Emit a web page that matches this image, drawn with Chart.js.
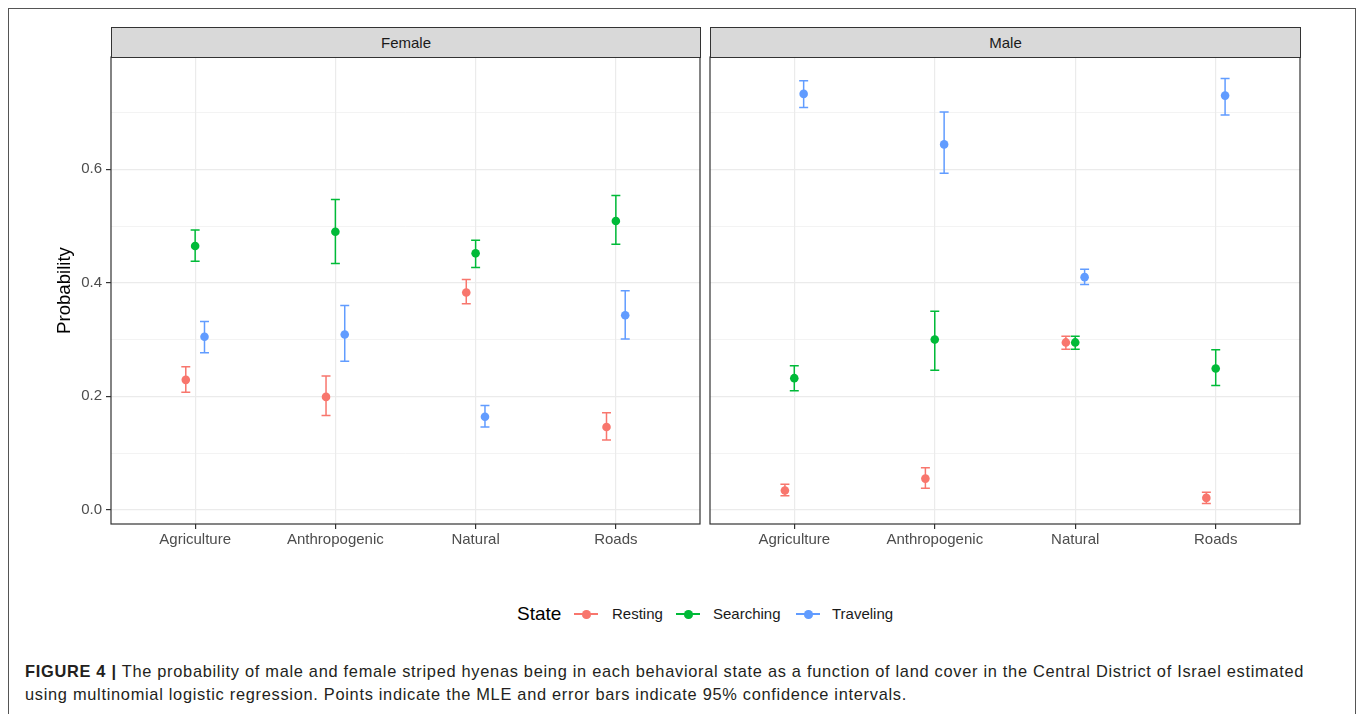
<!DOCTYPE html>
<html lang="en">
<head>
<meta charset="UTF-8">
<title>Figure 4 - Striped hyena behavioral state</title>
<script src="https://cdn.jsdelivr.net/npm/chart.js"></script>
<style>
  body { margin: 0; background: #fff; font-family: "Liberation Sans", Arial, sans-serif; }
  #page { position: relative; width: 1358px; height: 714px; overflow: hidden; }
  #frame {
    position: absolute; left: 8px; top: 8px; width: 1346px; height: 720px;
    border: 1.5px solid #555; border-bottom: none;
  }
  canvas { position: absolute; top: 0; }
  .strip {
    position: absolute; top: 27px; height: 29px; box-sizing: content-box;
    background: #d9d9d9; border: 1.2px solid #333;
    font-size: 15px; color: #1a1a1a; text-align: center; line-height: 30px;
  }
  #legend { position: absolute; top: 602px; left: 517px; height: 24px; font-size: 15px; color: #1a1a1a; }
  #legend span { position: absolute; white-space: nowrap; line-height: 24px; }
  #legend .title { font-size: 19px; color: #000; top: 0; }
  #legend .key { width: 24px; height: 24px; }
  #legend .key i { position: absolute; left: 0; top: 11px; width: 24px; height: 1.6px; }
  #legend .key b { position: absolute; left: 8px; top: 8px; width: 8.5px; height: 8.5px; border-radius: 50%; }
  #caption {
    position: absolute; left: 25px; top: 660px; font-size: 16.4px; line-height: 23px;
    letter-spacing: 0.7px; color: #231f20; white-space: nowrap;
  }
</style>
</head>
<body>
<div id="page">
  <div id="frame"></div>
  <canvas id="femaleChart" width="705" height="560" style="left:0"></canvas>
  <canvas id="maleChart" width="600" height="560" style="left:705px"></canvas>
  <div class="strip" style="left:111px; width:588px">Female</div>
  <div class="strip" style="left:710px; width:589px">Male</div>
  <div id="legend"></div>
  <div id="caption"><b>FIGURE 4 |</b> The probability of male and female striped hyenas being in each behavioral state as a function of land cover in the Central District of Israel estimated<br>using multinomial logistic regression. Points indicate the MLE and error bars indicate 95% confidence intervals.</div>
</div>

<script>
// categories and groups
const landCovers = ['Agriculture', 'Anthropogenic', 'Natural', 'Roads'];
const states = ['Resting', 'Searching', 'Traveling'];
const stateColors = ['#F8766D', '#00BA38', '#619CFF'];

// tick values on the probability axis
const yMajorTicks = [0, 0.2, 0.4, 0.6];
const yMinorTicks = [0.1, 0.3, 0.5, 0.7];

// Female: estimate, lower and upper 95% CI (per land cover)
const femaleResting = [0.229, 0.199, 0.383, 0.146];
const femaleRestingLo = [0.207, 0.166, 0.363, 0.123];
const femaleRestingHi = [0.252, 0.236, 0.406, 0.171];
const femaleSearching = [0.465, 0.490, 0.452, 0.509];
const femaleSearchingLo = [0.438, 0.434, 0.427, 0.468];
const femaleSearchingHi = [0.493, 0.547, 0.475, 0.554];
const femaleTraveling = [0.305, 0.309, 0.164, 0.343];
const femaleTravelingLo = [0.277, 0.262, 0.146, 0.301];
const femaleTravelingHi = [0.332, 0.360, 0.184, 0.386];

// Male
const maleResting = [0.034, 0.055, 0.295, 0.021];
const maleRestingLo = [0.025, 0.038, 0.283, 0.011];
const maleRestingHi = [0.045, 0.074, 0.306, 0.031];
const maleSearching = [0.232, 0.300, 0.295, 0.249];
const maleSearchingLo = [0.210, 0.246, 0.283, 0.219];
const maleSearchingHi = [0.254, 0.350, 0.306, 0.282];
const maleTraveling = [0.733, 0.644, 0.410, 0.730];
const maleTravelingLo = [0.709, 0.593, 0.397, 0.696];
const maleTravelingHi = [0.756, 0.701, 0.424, 0.760];

const dodge = [-0.0667, 0, 0.0667]; // position_dodge(0.2)
const capHalf = 0.032;
const fontFamily = '"Liberation Sans", Arial, sans-serif';

function buildDatasets(est, lo, hi) {
    return states.map((s, k) => ({
        label: s,
        data: est[k].map((v, i) => ({ x: i + 1 + dodge[k], y: v, lo: lo[k][i], hi: hi[k][i] })),
        backgroundColor: stateColors[k],
        borderWidth: 0,
        pointRadius: 4.3,
        pointHoverRadius: 4.3
    }));
}

// draws error bars + the panel border
const errorBarPlugin = {
    id: 'errorBars',
    beforeDatasetsDraw(chart) {
        const ctx = chart.ctx;
        const xs = chart.scales.x, ys = chart.scales.y;
        ctx.save();
        ctx.lineWidth = 1.5;
        chart.data.datasets.forEach(ds => {
            ctx.strokeStyle = ds.backgroundColor;
            ds.data.forEach(p => {
                const xc = xs.getPixelForValue(p.x);
                const x0 = xs.getPixelForValue(p.x - capHalf);
                const x1 = xs.getPixelForValue(p.x + capHalf);
                const yl = ys.getPixelForValue(p.lo);
                const yh = ys.getPixelForValue(p.hi);
                ctx.beginPath();
                ctx.moveTo(xc, yl); ctx.lineTo(xc, yh);
                ctx.moveTo(x0, yl); ctx.lineTo(x1, yl);
                ctx.moveTo(x0, yh); ctx.lineTo(x1, yh);
                ctx.stroke();
            });
        });
        ctx.restore();
    },
    afterDraw(chart) {
        const a = chart.chartArea;
        const ctx = chart.ctx;
        ctx.save();
        ctx.strokeStyle = '#333';
        ctx.lineWidth = 1.2;
        ctx.strokeRect(a.left, a.top, a.right - a.left, a.bottom - a.top);
        ctx.restore();
    }
};

function makePanel(canvasId, est, lo, hi, showY) {
    const ctx = document.getElementById(canvasId).getContext('2d');
    return new Chart(ctx, {
        type: 'scatter',
        data: { datasets: buildDatasets(est, lo, hi) },
        plugins: [errorBarPlugin],
        options: {
            responsive: false,
            animation: false,
            layout: { padding: { top: 57, right: 5, bottom: 0, left: showY ? 40 : 5 } },
            plugins: { legend: { display: false }, tooltip: { enabled: false } },
            scales: {
                x: {
                    type: 'linear',
                    min: 0.4,
                    max: 4.6,
                    afterBuildTicks: axis => { axis.ticks = landCovers.map((_, i) => ({ value: i + 1 })); },
                    afterFit: axis => { axis.height = 36; },
                    border: { display: false },
                    grid: { color: '#ebebeb', lineWidth: 1.2, tickColor: '#333', tickLength: 5, tickWidth: 1.2 },
                    ticks: {
                        callback: v => landCovers[Math.round(v) - 1],
                        color: '#4d4d4d',
                        font: { family: fontFamily, size: 15 },
                        padding: 2,
                        maxRotation: 0,
                        autoSkip: false
                    }
                },
                y: {
                    min: -0.025,
                    max: 0.798,
                    afterBuildTicks: axis => {
                        axis.ticks = yMajorTicks.concat(yMinorTicks).sort((a, b) => a - b).map(v => ({ value: v }));
                    },
                    afterFit: axis => { axis.width = showY ? 71 : 0; },
                    border: { display: false },
                    grid: {
                        color: '#ebebeb',
                        lineWidth: c => yMajorTicks.includes(c.tick.value) ? 1.2 : 0.6,
                        tickColor: c => (showY && yMajorTicks.includes(c.tick.value)) ? '#333' : 'rgba(0,0,0,0)',
                        tickLength: 5,
                        tickWidth: 1.2,
                        drawTicks: showY
                    },
                    ticks: {
                        display: showY,
                        callback: v => {
                            const i = yMajorTicks.indexOf(v);
                            return i >= 0 ? v.toFixed(1) : '';
                        },
                        color: '#4d4d4d',
                        font: { family: fontFamily, size: 15 },
                        padding: 4,
                        autoSkip: false
                    },
                    title: {
                        display: showY,
                        text: 'Probability',
                        color: '#000',
                        font: { family: fontFamily, size: 18.6 },
                        padding: { top: 14, bottom: 0 }
                    }
                }
            }
        }
    });
}

makePanel('femaleChart',
    [femaleResting, femaleSearching, femaleTraveling],
    [femaleRestingLo, femaleSearchingLo, femaleTravelingLo],
    [femaleRestingHi, femaleSearchingHi, femaleTravelingHi], true);

makePanel('maleChart',
    [maleResting, maleSearching, maleTraveling],
    [maleRestingLo, maleSearchingLo, maleTravelingLo],
    [maleRestingHi, maleSearchingHi, maleTravelingHi], false);

// legend
const legendPos = [{ key: 57, text: 95 }, { key: 159, text: 196 }, { key: 279, text: 315 }];
const legend = document.getElementById('legend');
legend.innerHTML = '<span class="title" style="left:0">State</span>' + states.map((s, k) =>
    `<span class="key" style="left:${legendPos[k].key}px"><i style="background:${stateColors[k]}"></i><b style="background:${stateColors[k]}"></b></span>` +
    `<span style="left:${legendPos[k].text}px">${s}</span>`).join('');
</script>
</body>
</html>
